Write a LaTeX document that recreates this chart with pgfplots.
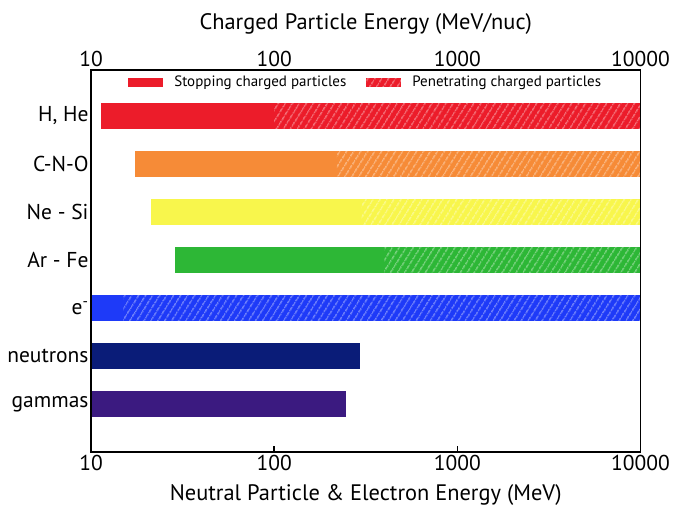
\documentclass[border=0pt]{standalone}
\usepackage{fontspec}
\setmainfont{PT Sans}
\usepackage{pgfplots}
\pgfplotsset{compat=1.18}
\usetikzlibrary{patterns.meta}
\definecolor{cH}{HTML}{EC1C2A}
\definecolor{cC}{HTML}{F68B37}
\definecolor{cS}{HTML}{F8F64C}
\definecolor{cA}{HTML}{2DB736}
\definecolor{cE}{HTML}{1E3AF8}
\definecolor{cN}{HTML}{0A1C78}
\definecolor{cG}{HTML}{3B1A80}
\tikzset{hatch/.style={postaction={pattern={Lines[angle=58,distance=6bp,line width=1bp]},pattern color=white,fill opacity=0.6}}}
\newcommand{\tl}[1]{\textrm{#1}}
\begin{document}
\begin{tikzpicture}
\path[use as bounding box] (0,0) rectangle (674bp,506bp);
\begin{axis}[
  at={(91bp,54bp)}, anchor=south west,
  scale only axis, width=549.5bp, height=382bp,
  xmode=log, xmin=10, xmax=10000, ymin=-1, ymax=6.96,
  axis on top,
  axis line style={line width=1.8bp, black},
  xtick={10,100,1000,10000},
  xticklabels={\tl{10},\tl{100},\tl{1000},\tl{10000}},
  minor xtick={},
  minor x tick style={draw=none},
  minor tick length=0pt,
  xtick pos=bottom, tick align=inside,
  major tick length=6bp,
  tick style={line width=1.5bp, black},
  ytick={0,1,2,3,4,5,6},
  yticklabels={gammas,neutrons,e\textsuperscript{-},Ar - Fe,Ne - Si,C-N-O,{H, He}},
  ytick style={draw=none},
  tick label style={font=\fontsize{21.5bp}{24bp}\selectfont},
  yticklabel style={xshift=1bp},
  xlabel={Neutral Particle \& Electron Energy (MeV)},
  xlabel style={font=\fontsize{22.4bp}{26bp}\selectfont, yshift=-7bp},
  legend columns=2,
  legend style={at={(0.5,1)}, anchor=north, yshift=-2bp, draw=none, fill=none,
    font=\fontsize{15bp}{17bp}\selectfont,
    /tikz/every odd column/.append style={column sep=9bp},
    /tikz/every even column/.append style={column sep=18bp}},
  legend cell align=left,
  legend image code/.code={\path[#1] (0bp,-4.5bp) rectangle (35bp,4.5bp);},
]
\addlegendimage{fill=cH, draw=none}
\addlegendentry{Stopping charged particles}
\addlegendimage{fill=cH, draw=none, hatch}
\addlegendentry{Penetrating charged particles}
% H, He
\addplot[fill=cH, draw=none, forget plot] coordinates {(11.3,5.73) (100,5.73) (100,6.27) (11.3,6.27)} -- cycle;
\addplot[fill=cH, draw=none, hatch, forget plot] coordinates {(100,5.73) (10000,5.73) (10000,6.27) (100,6.27)} -- cycle;
% C-N-O
\addplot[fill=cC, draw=none, forget plot] coordinates {(17.4,4.73) (220,4.73) (220,5.27) (17.4,5.27)} -- cycle;
\addplot[fill=cC, draw=none, hatch, forget plot] coordinates {(220,4.73) (10000,4.73) (10000,5.27) (220,5.27)} -- cycle;
% Ne - Si
\addplot[fill=cS, draw=none, forget plot] coordinates {(21.3,3.73) (300,3.73) (300,4.27) (21.3,4.27)} -- cycle;
\addplot[fill=cS, draw=none, hatch, forget plot] coordinates {(300,3.73) (10000,3.73) (10000,4.27) (300,4.27)} -- cycle;
% Ar - Fe
\addplot[fill=cA, draw=none, forget plot] coordinates {(28.7,2.73) (400,2.73) (400,3.27) (28.7,3.27)} -- cycle;
\addplot[fill=cA, draw=none, hatch, forget plot] coordinates {(400,2.73) (10000,2.73) (10000,3.27) (400,3.27)} -- cycle;
% e-
\addplot[fill=cE, draw=none, forget plot] coordinates {(10,1.73) (15,1.73) (15,2.27) (10,2.27)} -- cycle;
\addplot[fill=cE, draw=none, hatch, forget plot] coordinates {(15,1.73) (10000,1.73) (10000,2.27) (15,2.27)} -- cycle;
% neutrons
\addplot[fill=cN, draw=none, forget plot] coordinates {(10,0.73) (295,0.73) (295,1.27) (10,1.27)} -- cycle;
% gammas
\addplot[fill=cG, draw=none, forget plot] coordinates {(10,-0.27) (247,-0.27) (247,0.27) (10,0.27)} -- cycle;
\end{axis}
\begin{axis}[
  at={(91bp,54bp)}, anchor=south west,
  scale only axis, width=549.5bp, height=382bp,
  xmode=log, xmin=10, xmax=10000, ymin=-1, ymax=6.96,
  axis x line*=top, hide y axis,
  axis line style={line width=1.8bp, black},
  xtick={10,100,1000,10000},
  xticklabels={\tl{10},\tl{100},\tl{1000},\tl{10000}},
  minor xtick={},
  minor x tick style={draw=none},
  minor tick length=0pt,
  major tick length=0pt,
  tick label style={font=\fontsize{21.5bp}{24bp}\selectfont},
  xlabel={Charged Particle Energy (MeV/nuc)},
  xlabel style={font=\fontsize{22.4bp}{26bp}\selectfont, yshift=10bp},
]
\addplot[draw=none] coordinates {(10,0) (10000,0)};
\end{axis}
\end{tikzpicture}
\end{document}
